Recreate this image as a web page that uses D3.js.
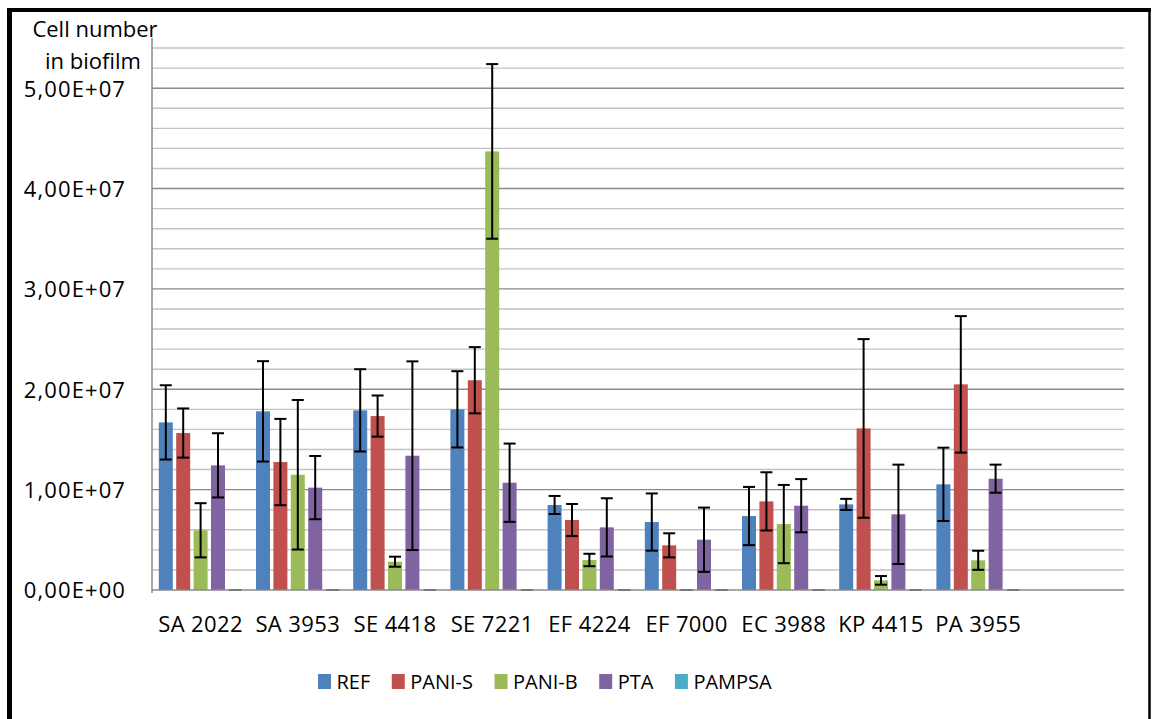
<!DOCTYPE html>
<html lang="en">
<head>
    <meta charset="UTF-8">
    <title>Cell number in biofilm</title>
    <script src="https://d3js.org/d3.v7.min.js"></script>
    <style>
        body { margin: 0; background: #fff; }
        text { font-family: "Open Sans", "Noto Sans", sans-serif; fill: #000; }
    </style>
</head>
<body>
<div id="chart"></div>
<script>
    // categories (the last slot of the axis stays empty, like in the original)
    const categories = ["SA 2022", "SA 3953", "SE 4418", "SE 7221", "EF 4224", "EF 7000", "EC 3988", "KP 4415", "PA 3955"];
    const seriesNames = ["REF", "PANI-S", "PANI-B", "PTA", "PAMPSA"];
    const seriesColors = ["#4F81BD", "#C0504D", "#9BBB59", "#8064A2", "#4BACC6"];

    // means and error (+/-)
    const refMean    = [1.67e7, 1.78e7, 1.79e7, 1.80e7, 0.847e7, 0.677e7, 0.737e7, 0.853e7, 1.053e7];
    const refErr     = [0.37e7, 0.50e7, 0.41e7, 0.38e7, 0.09e7, 0.285e7, 0.29e7, 0.055e7, 0.365e7];
    const paniSMean  = [1.564e7, 1.275e7, 1.733e7, 2.09e7, 0.697e7, 0.445e7, 0.883e7, 1.61e7, 2.049e7];
    const paniSErr   = [0.245e7, 0.43e7, 0.205e7, 0.33e7, 0.16e7, 0.12e7, 0.29e7, 0.89e7, 0.68e7];
    const paniBMean  = [0.595e7, 1.148e7, 0.282e7, 4.37e7, 0.299e7, 0, 0.657e7, 0.096e7, 0.296e7];
    const paniBErr   = [0.27e7, 0.745e7, 0.05e7, 0.87e7, 0.062e7, 0, 0.39e7, 0.043e7, 0.095e7];
    const ptaMean    = [1.242e7, 1.02e7, 1.338e7, 1.069e7, 0.624e7, 0.501e7, 0.84e7, 0.754e7, 1.109e7];
    const ptaErr     = [0.32e7, 0.315e7, 0.94e7, 0.39e7, 0.29e7, 0.32e7, 0.265e7, 0.495e7, 0.14e7];
    const pampsaMean = [0, 0, 0, 0, 0, 0, 0, 0, 0];
    const pampsaErr  = [0, 0, 0, 0, 0, 0, 0, 0, 0];

    const yTicks = [0, 1e7, 2e7, 3e7, 4e7, 5e7];
    const yTickLabels = ["0,00E+00", "1,00E+07", "2,00E+07", "3,00E+07", "4,00E+07", "5,00E+07"];

    const means = [refMean, paniSMean, paniBMean, ptaMean, pampsaMean];
    const errs = [refErr, paniSErr, paniBErr, ptaErr, pampsaErr];

    let rows = [];
    categories.forEach((c, i) => {
        seriesNames.forEach((s, j) => {
            rows.push({cat: c, series: s, color: seriesColors[j], value: means[j][i], err: errs[j][i]});
        });
    });

    const width = 1153, height = 719;
    const plot = {left: 152, right: 1124, top: 38, bottom: 590};

    let svg = d3.select("#chart").append("svg")
        .attr("width", width)
        .attr("height", height);

    // frame
    svg.append("line").attr("x1", 9.5).attr("x2", 9.5).attr("y1", 8).attr("y2", 730)
        .attr("stroke", "#000").attr("stroke-width", 5);
    svg.append("line").attr("x1", 7).attr("x2", 1151).attr("y1", 10).attr("y2", 10)
        .attr("stroke", "#000").attr("stroke-width", 4);
    svg.append("line").attr("x1", 1149.5).attr("x2", 1149.5).attr("y1", 8).attr("y2", 730)
        .attr("stroke", "#000").attr("stroke-width", 2.5);

    let slots = categories.concat(["_empty"]);
    let x0 = d3.scaleBand().domain(slots).range([plot.left, plot.right]).padding(0);
    let x1 = d3.scaleBand().domain(seriesNames).range([5.1, x0.bandwidth() - 5.1]).padding(0);
    let barW = 14;

    let y = d3.scaleLinear().domain([0, 5.5e7]).range([plot.bottom, plot.top]);

    // gridlines, every 2E+06, darker on the labelled ones
    let gridVals = d3.range(2e6, 5.5e7, 2e6);
    svg.append("g").selectAll("line")
        .data(gridVals)
        .join("line")
        .attr("x1", plot.left).attr("x2", plot.right)
        .attr("y1", d => y(d)).attr("y2", d => y(d))
        .attr("stroke", d => (Math.round(d / 2e6) % 5 === 0) ? "#8a8a8a" : "#c3c3c3")
        .attr("stroke-width", 1.4);

    // y axis
    let yAxis = d3.axisLeft(y)
        .tickValues(yTicks)
        .tickFormat((d, i) => yTickLabels[i])
        .tickSize(0)
        .tickPadding(26);
    let gy = svg.append("g").attr("transform", `translate(${plot.left},0)`).call(yAxis);
    gy.select(".domain").remove();
    gy.selectAll("text")
        .style("font-size", "22px")
        .style("letter-spacing", "1.1px")
        .attr("dy", "0.36em");

    svg.append("line")
        .attr("x1", plot.left).attr("x2", plot.left)
        .attr("y1", plot.top).attr("y2", plot.bottom + 3)
        .attr("stroke", "#8a8a8a").attr("stroke-width", 1.5);

    // x axis
    let xAxis = d3.axisBottom(x0).tickSize(0).tickPadding(26)
        .tickFormat(d => d === "_empty" ? "" : d);
    let gx = svg.append("g").attr("transform", `translate(0,${plot.bottom})`).call(xAxis);
    gx.select(".domain").remove();
    gx.selectAll("text").style("font-size", "22px").style("letter-spacing", "0.4px");

    // bars
    let groups = svg.append("g").selectAll("g.bar")
        .data(rows)
        .join("g")
        .attr("class", "bar")
        .attr("transform", d => `translate(${x0(d.cat) + x1(d.series) + x1.bandwidth() / 2},0)`);

    groups.append("rect")
        .attr("x", -barW / 2)
        .attr("width", barW)
        .attr("y", d => y(d.value))
        .attr("height", d => y(0) - y(d.value))
        .attr("fill", d => d.color);

    svg.append("line")
        .attr("x1", plot.left).attr("x2", plot.right)
        .attr("y1", plot.bottom).attr("y2", plot.bottom)
        .attr("stroke", "#8a8a8a").attr("stroke-width", 1.5);

    // error bars
    let capW = 12;
    groups.append("line")
        .attr("x1", 0).attr("x2", 0)
        .attr("y1", d => y(d.value + d.err))
        .attr("y2", d => y(Math.max(0, d.value - d.err)))
        .attr("stroke", "#000").attr("stroke-width", 2);
    groups.append("line")
        .attr("x1", -capW / 2).attr("x2", capW / 2)
        .attr("y1", d => y(d.value + d.err)).attr("y2", d => y(d.value + d.err))
        .attr("stroke", d => d.err === 0 ? "#444" : "#000").attr("stroke-width", 2);
    groups.append("line")
        .attr("x1", -capW / 2).attr("x2", capW / 2)
        .attr("y1", d => y(Math.max(0, d.value - d.err))).attr("y2", d => y(Math.max(0, d.value - d.err)))
        .attr("stroke", d => d.err === 0 ? "#444" : "#000").attr("stroke-width", 2);

    // axis title
    let title = svg.append("text")
        .attr("text-anchor", "middle")
        .style("font-size", "22px");
    title.append("tspan").attr("x", 95).attr("y", 37).text("Cell number");
    title.append("tspan").attr("x", 93).attr("y", 69).text("in biofilm");

    // legend
    let legend = svg.append("g").attr("transform", "translate(318,0)");
    let lx = 0;
    seriesNames.forEach((s, i) => {
        legend.append("rect")
            .attr("x", lx).attr("y", 674)
            .attr("width", 13).attr("height", 15)
            .attr("fill", seriesColors[i]);
        let t = legend.append("text")
            .attr("x", lx + 18.5).attr("y", 689)
            .style("font-size", "20px")
            .text(s);
        lx = lx + 18.5 + t.node().getComputedTextLength() + 21.5;
    });
</script>
</body>
</html>
